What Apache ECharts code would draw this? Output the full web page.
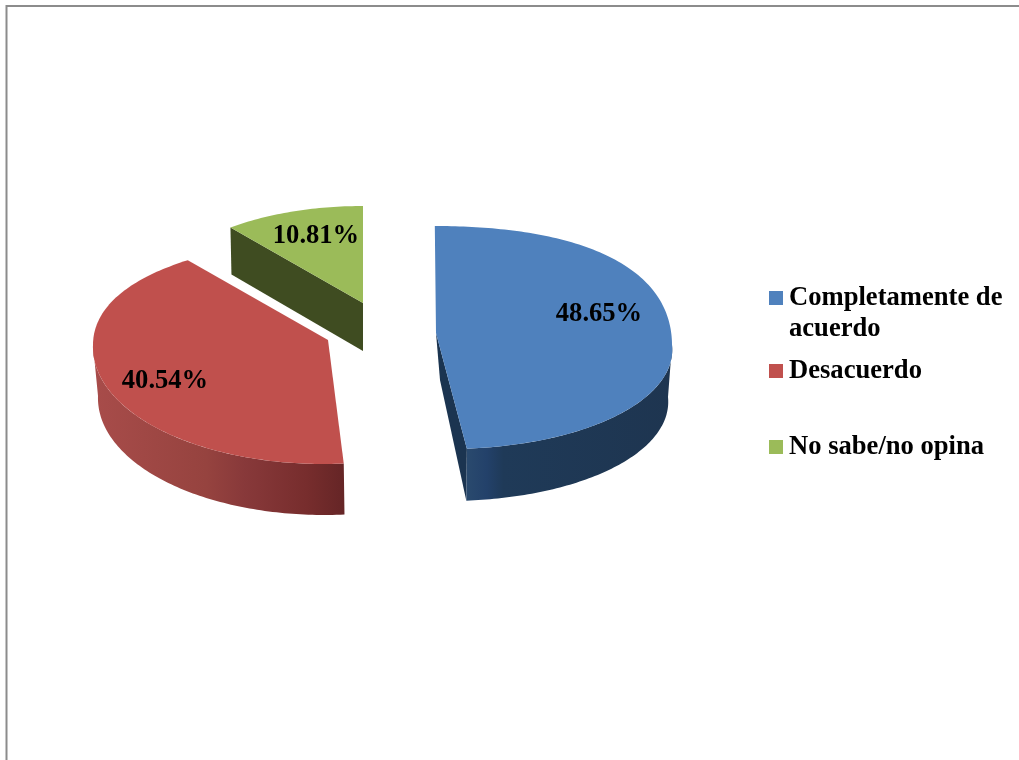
<!DOCTYPE html>
<html>
<head>
<meta charset="utf-8">
<style>html,body{margin:0;padding:0;background:#fff}#chart{width:1019px;height:760px}</style>
<script src="https://cdn.jsdelivr.net/npm/echarts@6/dist/echarts.min.js"></script>
</head>
<body>
<div id="chart"></div>
<script>
var categories = ['Completamente de acuerdo', 'Desacuerdo', 'No sabe/no opina'];
var legendLabels = [' \nCompletamente de\nacuerdo', 'Desacuerdo', 'No sabe/no opina'];
var values = [48.65, 40.54, 10.81];
var topColors = ['#4f81bd', '#c0504d', '#9bbb59'];

// Placement of each exploded slice (apex, rim centre, radii, thickness, perspective shear) - no data here.
var sliceLayout = [
  {cx: 436, cy: 333, rimCy: 345, rx: 236, ryUp: 119, ryDown: 104, skewUp: 0.01, skewDown: 0.105, bulge: 0.045, depth: 52, inset: 4, shift: 0,
   apexLowX: 440, apexLowY: 380,
   face: 'end', faceColor: '#1b3450', labelX: 599, labelY: 314,
   wall: [[0, '#2a4a6e'], [0.1, '#23416a'], [0.18, '#1f3a58'], [1, '#1e3550']]},
  {cx: 328, cy: 340, rimCy: 345, rx: 235, ryUp: 107, ryDown: 119, skewUp: -0.2, skewDown: -0.035, bulge: 0.02, depth: 51, inset: 4, shift: 1,
   apexLowX: 328, apexLowY: 391,
   face: null, faceColor: null, labelX: 165, labelY: 381,
   wall: [[0, '#a84c4a'], [0.45, '#96433f'], [0.6, '#88393a'], [0.85, '#772d2d'], [1, '#652526']]},
  {cx: 363, cy: 303, rimCy: 303, rx: 211, ryUp: 97, ryDown: 97, skewUp: 0, skewDown: 0, bulge: 0, depth: 47, inset: 0, shift: 1,
   apexLowX: 363, apexLowY: 351,
   face: 'start', faceColor: '#3f4c21', labelX: 316, labelY: 236,
   wall: [[0, '#3f4c21'], [1, '#3f4c21']]}
];

var total = values.reduce(function (a, b) { return a + b; }, 0);

function rimPoint(L, deg, lower) {
  var r = deg * Math.PI / 180;
  var c = Math.cos(r), s = Math.sin(r);
  // Upper half of the rim is slightly fuller than a true ellipse
  var k = c > 0 ? 1 + L.bulge * Math.pow(Math.sin(2 * r), 2) : 1;
  var dy = c > 0 ? -L.ryUp * c * k : -L.ryDown * c;
  var x = c > 0 ? L.rx * s * k + L.skewUp * dy * c * c : L.rx * s + L.skewDown * dy;
  var y = L.rimCy + dy;
  if (lower) {
    return [L.cx + L.shift + x * (L.rx - L.inset) / L.rx, y + L.depth];
  }
  return [L.cx + x, y];
}

function arc(L, a0, a1, lower) {
  var pts = [];
  var n = Math.max(2, Math.ceil(Math.abs(a1 - a0)));
  for (var i = 0; i <= n; i++) {
    pts.push(rimPoint(L, a0 + (a1 - a0) * i / n, lower));
  }
  return pts;
}

function sliceRenderer(index) {
  return function (params, api) {
    var L = sliceLayout[index];
    var before = 0;
    for (var i = 0; i < index; i++) before += values[i];
    var value = api.value(0);
    var a0 = echarts.number.linearMap(before, [0, total], [0, 360]);
    var a1 = echarts.number.linearMap(before + value, [0, total], [0, 360]);
    var apex = [L.cx, L.cy];
    var apexLow = [L.apexLowX, L.apexLowY];
    var kids = [];

    // Radial cut face
    if (L.face) {
      var ang = L.face === 'end' ? a1 : a0;
      kids.push({
        type: 'polygon',
        shape: {points: [apex, rimPoint(L, ang, false), rimPoint(L, ang, true), apexLow]},
        style: {fill: L.faceColor}
      });
    }
    // Outer wall: only the part on the near half of the rim
    var w0 = Math.max(a0, 90), w1 = Math.min(a1, 270);
    if (w1 > w0) {
      var stops = L.wall.map(function (st) { return {offset: st[0], color: st[1]}; });
      kids.push({
        type: 'polygon',
        shape: {points: arc(L, w0, w1, false).concat(arc(L, w1, w0, true))},
        style: {fill: new echarts.graphic.LinearGradient(0, 0, 1, 0, stops)}
      });
    }
    // Top surface
    kids.push({
      type: 'polygon',
      shape: {points: [apex].concat(arc(L, a0, a1, false))},
      style: {fill: topColors[index]}
    });
    // Percentage label
    kids.push({
      type: 'text',
      style: {
        x: L.labelX, y: L.labelY,
        text: value.toFixed(2) + '%',
        fill: '#000',
        font: 'bold 26.6px "Liberation Serif", "Times New Roman", serif',
        align: 'center', verticalAlign: 'middle'
      }
    });
    return {type: 'group', children: kids};
  };
}

var legendTops = [251.5, 355.5, 431.5];
var chart = echarts.init(document.getElementById('chart'), null, {renderer: 'canvas'});
chart.setOption({
  animation: false,
  backgroundColor: '#fff',
  tooltip: {show: false},
  graphic: [
    {type: 'polyline', silent: true, shape: {points: [[6.5, 760], [6.5, 6], [1019, 6]]},
     style: {stroke: '#8c8c8c', lineWidth: 2, fill: null}}
  ],
  legend: categories.map(function (name, i) {
    return {
      data: [name],
      left: 769,
      top: legendTops[i],
      padding: 0,
      orient: 'vertical',
      icon: 'rect',
      itemWidth: 14,
      itemHeight: 14,
      selectedMode: false,
      formatter: function () { return legendLabels[i]; },
      textStyle: {
        color: '#000',
        fontFamily: '"Liberation Serif", "Times New Roman", serif',
        fontWeight: 'bold',
        fontSize: 26.6,
        lineHeight: 31,
        padding: [0, 0, 0, 1]
      }
    };
  }),
  series: categories.map(function (name, i) {
    return {
      type: 'custom',
      name: name,
      coordinateSystem: 'none',
      silent: true,
      clip: false,
      itemStyle: {color: topColors[i]},
      data: [[values[i]]],
      renderItem: sliceRenderer(i)
    };
  })
});
</script>
</body>
</html>
